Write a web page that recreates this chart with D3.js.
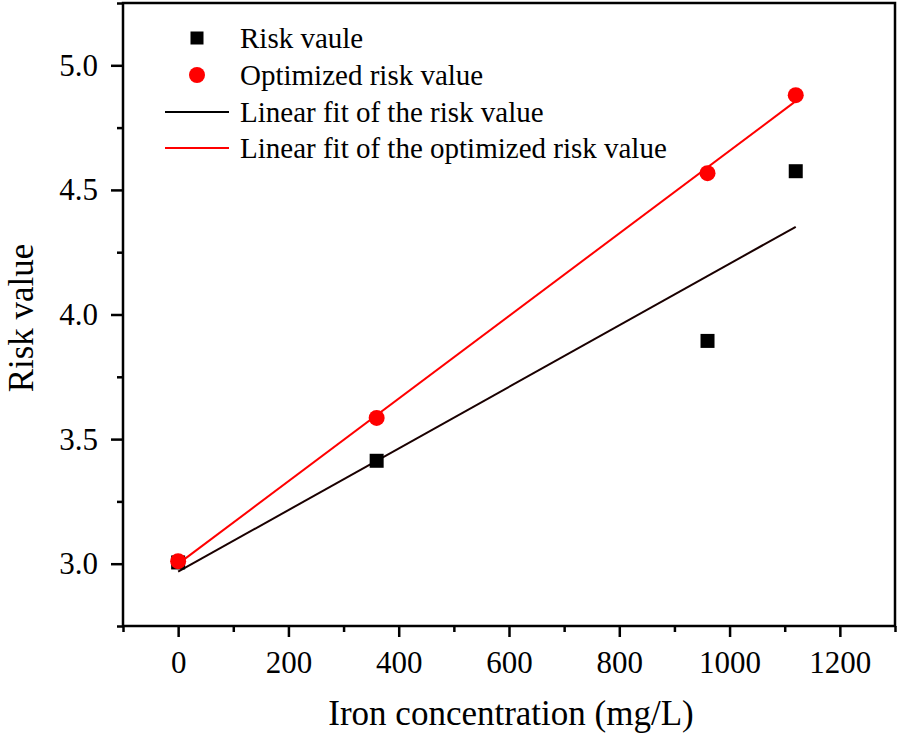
<!DOCTYPE html>
<html>
<head>
<meta charset="utf-8">
<script src="https://cdn.jsdelivr.net/npm/d3@7"></script>
<style>
  html, body { margin: 0; padding: 0; background: #fff; }
  svg text { font-family: "Liberation Serif", "Times New Roman", serif; fill: #000; }
</style>
</head>
<body>
<div id="canvas"></div>
<script>
// data
const ironConc = [0, 360, 960, 1120];
const riskValue = [3.005, 3.413, 3.894, 4.575];
const optRiskValue = [3.01, 3.585, 4.567, 4.88];

const xTicks = [0, 200, 400, 600, 800, 1000, 1200];
const yTicks = [3.0, 3.5, 4.0, 4.5, 5.0];

const legendNames = ['Risk vaule', 'Optimized risk value', 'Linear fit of the risk value', 'Linear fit of the optimized risk value'];

const width = 898;
const height = 737;
const margin = { top: 3, left: 123, right: 3, bottom: 111 };

const svg = d3.select('#canvas').append('svg')
    .attr('width', width)
    .attr('height', height)
    .attr('viewBox', [0, 0, width, height]);

const xScale = d3.scaleLinear()
    .domain([-100, 1300])
    .range([margin.left, width - margin.right]);

const yScale = d3.scaleLinear()
    .domain([2.75, 5.25])
    .range([height - margin.bottom, margin.top]);

// least squares fit
function linFit(xs, ys) {
    const mx = d3.mean(xs), my = d3.mean(ys);
    let sxy = 0, sxx = 0;
    xs.forEach((x, i) => { sxy += (x - mx) * (ys[i] - my); sxx += (x - mx) * (x - mx); });
    const b = sxy / sxx;
    return { a: my - b * mx, b: b };
}

const fitRisk = linFit(ironConc, riskValue);
const fitOpt = linFit(ironConc, optRiskValue);
const xExt = d3.extent(ironConc);

const line = d3.line()
    .x(d => xScale(d[0]))
    .y(d => yScale(d[1]));

// fit lines
svg.append('path')
    .datum(xExt.map(x => [x, fitRisk.a + fitRisk.b * x]))
    .attr('d', line)
    .attr('fill', 'none')
    .attr('stroke', '#1a0000')
    .attr('stroke-width', 2);

svg.append('path')
    .datum(xExt.map(x => [x, fitOpt.a + fitOpt.b * x]))
    .attr('d', line)
    .attr('fill', 'none')
    .attr('stroke', '#ff0000')
    .attr('stroke-width', 2);

// points
const sq = 14;
svg.append('g')
    .selectAll('rect')
    .data(ironConc.map((x, i) => [x, riskValue[i]]))
    .join('rect')
    .attr('x', d => xScale(d[0]) - sq / 2)
    .attr('y', d => yScale(d[1]) - sq / 2)
    .attr('width', sq)
    .attr('height', sq)
    .attr('fill', '#000');

svg.append('g')
    .selectAll('circle')
    .data(ironConc.map((x, i) => [x, optRiskValue[i]]))
    .join('circle')
    .attr('cx', d => xScale(d[0]))
    .attr('cy', d => yScale(d[1]))
    .attr('r', 8)
    .attr('fill', '#ff0000');

// axes
const yBottom = height - margin.bottom;
const xMinor = d3.range(-100, 1301, 100).filter(v => !xTicks.includes(v));
const yMinor = d3.range(2.75, 5.26, 0.25).filter(v => !yTicks.some(t => Math.abs(t - v) < 1e-6));

svg.append('g')
    .attr('transform', `translate(0,${yBottom})`)
    .call(d3.axisBottom(xScale).tickValues(xTicks).tickSize(11).tickPadding(14).tickFormat(d3.format('d')));
svg.append('g')
    .attr('transform', `translate(0,${yBottom})`)
    .call(d3.axisBottom(xScale).tickValues(xMinor).tickSize(6).tickFormat(''));

svg.append('g')
    .attr('transform', `translate(${margin.left},0)`)
    .call(d3.axisLeft(yScale).tickValues(yTicks).tickSize(12).tickPadding(13).tickFormat(d3.format('.1f')));
svg.append('g')
    .attr('transform', `translate(${margin.left},0)`)
    .call(d3.axisLeft(yScale).tickValues(yMinor).tickSize(6).tickFormat(''));

svg.selectAll('.tick line').attr('stroke', '#000').attr('stroke-width', 2.5);
svg.selectAll('.domain').remove();
svg.selectAll('.tick text')
    .attr('font-size', 31)
    .attr('fill', '#000');

// frame
svg.append('rect')
    .attr('x', margin.left)
    .attr('y', margin.top)
    .attr('width', width - margin.right - margin.left)
    .attr('height', yBottom - margin.top)
    .attr('fill', 'none')
    .attr('stroke', '#000')
    .attr('stroke-width', 2.5);

// axis titles
svg.append('text')
    .attr('x', 511)
    .attr('y', 725)
    .attr('text-anchor', 'middle')
    .attr('font-size', 35)
    .text('Iron concentration (mg/L)');

svg.append('text')
    .attr('transform', 'translate(33,318) rotate(-90)')
    .attr('text-anchor', 'middle')
    .attr('font-size', 35)
    .text('Risk value');

// legend
const legend = svg.append('g');
const legY = [38, 75, 112, 148];
legend.append('rect').attr('x', 197 - 6.5).attr('y', legY[0] - 6.5).attr('width', 13).attr('height', 13).attr('fill', '#000');
legend.append('circle').attr('cx', 197).attr('cy', legY[1]).attr('r', 8).attr('fill', '#ff0000');
legend.append('line').attr('x1', 165).attr('x2', 229).attr('y1', legY[2]).attr('y2', legY[2]).attr('stroke', '#000').attr('stroke-width', 2);
legend.append('line').attr('x1', 165).attr('x2', 229).attr('y1', legY[3]).attr('y2', legY[3]).attr('stroke', '#ff0000').attr('stroke-width', 2);
legend.selectAll('text')
    .data(legendNames)
    .join('text')
    .attr('x', 240)
    .attr('y', (d, i) => legY[i] + 10)
    .attr('font-size', 29)
    .text(d => d);
</script>
</body>
</html>
